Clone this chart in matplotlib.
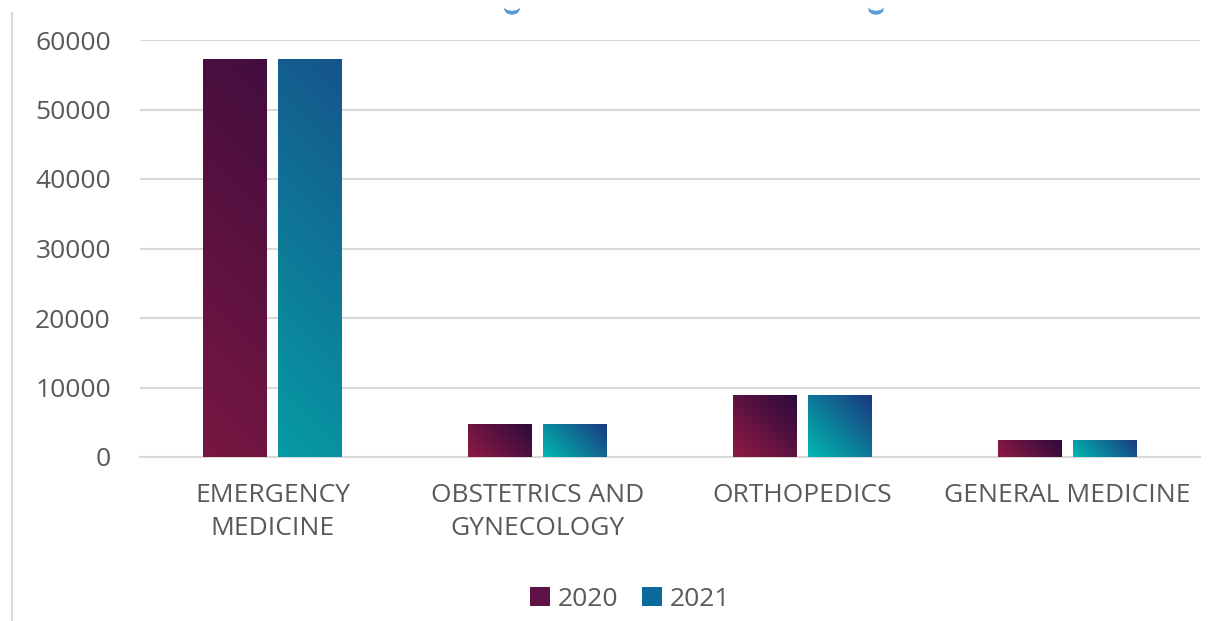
import matplotlib.pyplot as plt
import numpy as np
from matplotlib.colors import LinearSegmentedColormap
from matplotlib.patches import Patch, Ellipse
from matplotlib.lines import Line2D

plt.rcParams['font.family'] = ['Open Sans', 'DejaVu Sans']

# data
categories = ['EMERGENCY\nMEDICINE', 'OBSTETRICS AND\nGYNECOLOGY', 'ORTHOPEDICS', 'GENERAL MEDICINE']
years = ['2020', '2021']
values_2020 = [57200, 4800, 8900, 2450]
values_2021 = [57200, 4800, 8900, 2450]

# gradient colour maps (light end first)
cmap_2020 = LinearSegmentedColormap.from_list('c2020', ['#8e1a44', '#2c0a3c'])
cmap_2021 = LinearSegmentedColormap.from_list('c2021', ['#00b8b0', '#1c3880'])

W, H = 1219, 621
fig = plt.figure(figsize=(W / 100, H / 100), dpi=100)
ax_l, ax_b, ax_w, ax_h = 140, 457, 1060, 417  # pixels
ax = fig.add_axes([ax_l / W, 1 - ax_b / H, ax_w / W, ax_h / H])

x = np.arange(len(categories))
w = 0.24
gap = 0.045
bars1 = ax.bar(x - (w + gap) / 2, values_2020, w, color='none', zorder=3)
bars2 = ax.bar(x + (w + gap) / 2, values_2021, w, color='none', zorder=3)

ymax = 60000
px_per_x = ax_w / len(categories)
px_per_y = ax_h / ymax

# 45 degree gradient in screen space: bottom-left light -> top-right dark
n = 200
u, v = np.meshgrid(np.linspace(0, 1, n), np.linspace(0, 1, n))
for bars, cmap in [(bars1, cmap_2020), (bars2, cmap_2021)]:
    for b in bars:
        bx, by = b.get_x(), b.get_y()
        bw, bh = b.get_width(), b.get_height()
        wp, hp = bw * px_per_x, bh * px_per_y
        grad = (u * wp + v * hp) / (wp + hp)
        # long bars show a softer range of the gradient
        k = min(1.0, (130 / (wp + hp)) ** 0.47)
        grad = 0.5 + (grad - 0.5) * k
        im = ax.imshow(grad, cmap=cmap, extent=[bx, bx + bw, by, by + bh],
                       origin='lower', aspect='auto', zorder=3, vmin=0, vmax=1)
        im.set_clip_path(b)

ax.set_xlim(-0.5, len(categories) - 0.5)
ax.set_ylim(0, ymax)
ax.set_yticks(np.arange(0, ymax + 1, 10000))
ax.set_xticks(x)
ax.set_xticklabels(categories, linespacing=1.42)
ax.grid(axis='y', color='#d9d9d9', linewidth=1.5, zorder=0)
ax.set_axisbelow(True)
for s in ['top', 'right', 'left']:
    ax.spines[s].set_visible(False)
ax.spines['bottom'].set_color('#d9d9d9')
ax.spines['bottom'].set_linewidth(1.5)
ax.tick_params(axis='both', length=0, colors='#595959', labelsize=19)
ax.tick_params(axis='x', pad=19)
ax.tick_params(axis='y', pad=21)

handles = [Patch(facecolor='#5e1245', label='2020'),
           Patch(facecolor='#0a6a9a', label='2021')]
fig.legend(handles=handles, loc='center', bbox_to_anchor=(630 / W, 1 - 599 / H),
           ncol=2, frameon=False, fontsize=19, labelcolor='#595959',
           handlelength=0.75, handleheight=0.75, handletextpad=0.3, columnspacing=0.9)

# frame line on the left edge and bits of markers cut off at the top
fig.add_artist(Line2D([12 / W, 12 / W], [0, 1 - 13 / H], color='#d9d9d9', linewidth=1.5))
for mx in [512, 876]:
    fig.add_artist(Ellipse((mx / W, 1 - 9 / H), 14 / W, 10 / H, color='#5b9bd5',
                           transform=fig.transFigure))
    fig.add_artist(Ellipse((mx / W, 1 - 5 / H), 16 / W, 10 / H, color='white',
                           transform=fig.transFigure))

fig.savefig('out.png', dpi=100)
